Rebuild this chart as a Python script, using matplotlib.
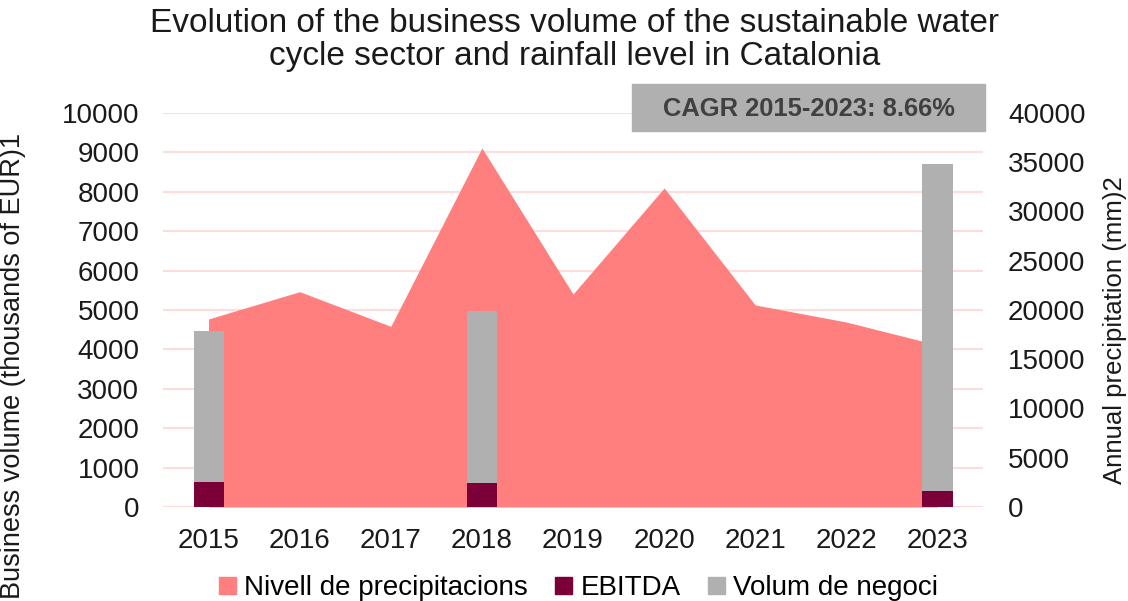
import numpy as np
import matplotlib.pyplot as plt
from matplotlib.patches import Patch

plt.rcParams['font.family'] = ['Liberation Sans', 'DejaVu Sans']

# Data ------------------------------------------------------------------------
years = ["2015", "2016", "2017", "2018", "2019", "2020", "2021", "2022", "2023"]
rainfall = [19090, 21860, 18340, 36450, 21620, 32390, 20510, 18780, 16450]
bar_years = ["2015", "2018", "2023"]
volum = [4470, 4980, 8700]
ebitda = [640, 610, 415]

c_area = "#FF7F7F"
c_ebitda = "#7B0037"
c_volum = "#B0B0B0"
c_grid = "#FDDCDC"

# Figure ----------------------------------------------------------------------
fig = plt.figure(figsize=(11.28, 6.01), dpi=100)
ax = fig.add_axes([0.1445, 0.1564, 0.727, 0.6556])
ax2 = ax.twinx()
ax.set_zorder(ax2.get_zorder() + 1)
ax.patch.set_visible(False)

x = np.arange(len(years))
xb = [years.index(y) for y in bar_years]

left_ticks = np.arange(0, 10001, 1000)
for t in left_ticks:
    ax2.axhline(t * 4, color=c_grid, lw=1.5, zorder=0)

ax2.fill_between(x, rainfall, color=c_area, lw=0, zorder=1)
ax.bar(xb, volum, width=0.33, color=c_volum)
ax.bar(xb, ebitda, width=0.33, color=c_ebitda)

ax.set_xlim(-0.5, 8.5)
ax.set_ylim(0, 10000)
ax2.set_ylim(0, 40000)
ax.set_yticks(left_ticks)
ax2.set_yticks(np.arange(0, 40001, 5000))
ax.set_xticks(x)
ax.set_xticklabels(years)

for a in (ax, ax2):
    for s in a.spines.values():
        s.set_visible(False)
    a.tick_params(length=0, labelsize=20, colors="#1A1A1A")
ax.tick_params(axis="y", pad=17)
ax.tick_params(axis="x", pad=15)
ax2.tick_params(axis="y", pad=18)

fig.text(0.509, 0.987, "Evolution of the business volume of the sustainable water\ncycle sector and rainfall level in Catalonia",
         ha="center", va="top", fontsize=24, color="#1A1A1A", linespacing=1.08)

fig.text(0.0, 0.391, "Business volume (thousands of EUR)1", rotation=90, ha="left", va="center",
         fontsize=19.5, color="#1A1A1A")
fig.text(0.978, 0.45, "Annual precipitation (mm)2", rotation=90, ha="left", va="center",
         fontsize=18.5, color="#1A1A1A")

# CAGR box
fig.patches.append(plt.Rectangle((632 / 1128, 1 - 131 / 601), 353 / 1128, 47 / 601,
                                 transform=fig.transFigure, color=c_volum, zorder=5))
fig.text((632 + 985) / 2 / 1128, 1 - 109 / 601, "CAGR 2015-2023: 8.66%", ha="center", va="center",
         fontsize=18.4, fontweight="bold", color="#404040", zorder=6)

handles = [Patch(color=c_area, label="Nivell de precipitacions"),
           Patch(color=c_ebitda, label="EBITDA"),
           Patch(color=c_volum, label="Volum de negoci")]
fig.legend(handles=handles, loc="lower center", bbox_to_anchor=(0.513, -0.042), ncol=3, frameon=False,
           fontsize=20, handlelength=0.6, handleheight=0.6, handletextpad=0.3, columnspacing=1.0)

fig.savefig("out.png", dpi=100)
